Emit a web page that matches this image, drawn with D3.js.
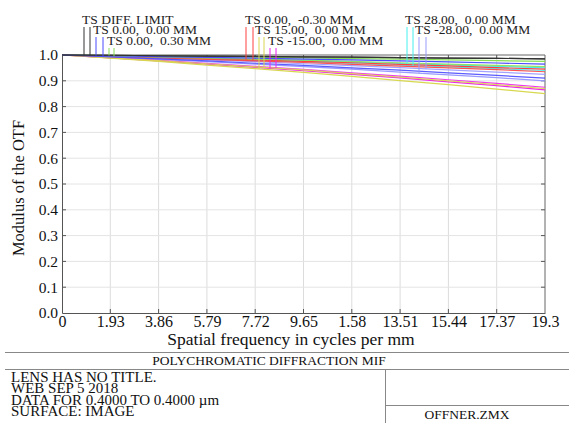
<!DOCTYPE html>
<html><head><meta charset="utf-8">
<script src="https://cdn.jsdelivr.net/npm/d3@7"></script>
<style>
html,body{margin:0;padding:0;background:#fff;}
svg{display:block;font-family:"Liberation Serif","Times New Roman",serif;}
text{white-space:pre;}
</style></head>
<body>
<svg id="c" width="569" height="423"></svg>
<script>
// ---- data ----
const freqs = [0, 1.93, 3.86, 5.79, 7.72, 9.65, 11.58, 13.51, 15.44, 17.37, 19.3];
const xTickLabels = ["0","1.93","3.86","5.79","7.72","9.65","1.58","13.51","15.44","17.37","19.3"];
const yTicks = [0,0.1,0.2,0.3,0.4,0.5,0.6,0.7,0.8,0.9,1.0];

const diffT = [1, .999, .997, .996, .995, .993, .992, .990, .988, .987, .985];
const diffS = [1, .999, .997, .996, .995, .993, .992, .990, .988, .987, .985];
const f1T = [1, .997, .994, .991, .988, .984, .981, .977, .973, .969, .965];
const f1S = [1, .993, .985, .977, .968, .960, .950, .941, .931, .921, .910];
const f2T = [1, .998, .996, .994, .991, .989, .986, .984, .981, .978, .975];
const f2S = [1, .996, .992, .988, .984, .980, .975, .970, .965, .960, .955];
const f3T = [1, .995, .991, .986, .981, .975, .970, .964, .958, .951, .945];
const f3S = [1, .995, .989, .983, .977, .971, .964, .957, .950, .943, .935];
const f4T = [1, .988, .975, .961, .947, .933, .917, .901, .885, .868, .850];
const f4S = [1, .989, .978, .966, .954, .942, .928, .914, .900, .885, .870];
const f5T = [1, .989, .977, .965, .952, .939, .925, .911, .896, .881, .865];
const f5S = [1, .990, .979, .968, .956, .944, .931, .918, .904, .890, .875];
const f6T = [1, .996, .992, .987, .982, .978, .972, .967, .962, .956, .950];
const f6S = [1, .995, .990, .985, .979, .973, .967, .961, .954, .947, .940];
const f7T = [1, .992, .983, .974, .965, .955, .945, .934, .923, .912, .900];
const f7S = [1, .994, .987, .981, .974, .966, .959, .951, .942, .934, .925];

const legendLabels = ["TS DIFF. LIMIT","TS 0.00,  0.00 MM","TS 0.00,  0.30 MM","TS 0.00,  -0.30 MM","TS 15.00,  0.00 MM","TS -15.00,  0.00 MM","TS 28.00,  0.00 MM","TS -28.00,  0.00 MM"];
const seriesColors = ["#333333","#4a4aff","#88dd55","#ff4040","#d8d850","#ee22ee","#44eeee","#9999ff"];

const series = [
  {name:legendLabels[0], T:diffT, S:diffS, color:seriesColors[0]},
  {name:legendLabels[1], T:f1T, S:f1S, color:seriesColors[1]},
  {name:legendLabels[2], T:f2T, S:f2S, color:seriesColors[2]},
  {name:legendLabels[3], T:f3T, S:f3S, color:seriesColors[3]},
  {name:legendLabels[4], T:f4T, S:f4S, color:seriesColors[4]},
  {name:legendLabels[5], T:f5T, S:f5S, color:seriesColors[5]},
  {name:legendLabels[6], T:f6T, S:f6S, color:seriesColors[6]},
  {name:legendLabels[7], T:f7T, S:f7S, color:seriesColors[7]}
];

// ---- layout ----
const svg = d3.select("#c");
svg.append("rect").attr("width",569).attr("height",423).attr("fill","#fff");
const L=62, R=545, T=55, B=313;
const x = d3.scaleLinear().domain([0,19.3]).range([L,R]);
const y = d3.scaleLinear().domain([0,1]).range([B,T]);

// grid
const g = svg.append("g");
g.selectAll(".vg").data(freqs.slice(1,-1)).enter().append("line")
  .attr("x1",d=>x(d)).attr("x2",d=>x(d)).attr("y1",T).attr("y2",B)
  .attr("stroke","#dcdcdc").attr("stroke-width",1);
g.selectAll(".hg").data(yTicks.slice(1,-1)).enter().append("line")
  .attr("y1",d=>y(d)).attr("y2",d=>y(d)).attr("x1",L).attr("x2",R)
  .attr("stroke","#e4e4e4").attr("stroke-width",1);

// axes
const xAxis = d3.axisBottom(x).tickValues(freqs).tickFormat((d,i)=>xTickLabels[i]).tickSize(0).tickPadding(3);
const ax = svg.append("g").attr("transform",`translate(0,${B})`).call(xAxis);
ax.select(".domain").attr("stroke","#555");
ax.selectAll("text").attr("font-size",16).attr("fill","#111").attr("font-family","Liberation Serif");

const yAxis = d3.axisLeft(y).tickValues(yTicks).tickFormat(d3.format(".1f")).tickSize(0).tickPadding(4);
const ay = svg.append("g").attr("transform",`translate(${L},0)`).call(yAxis);
ay.select(".domain").attr("stroke","#555");
ay.selectAll("text").attr("font-size",15.5).attr("fill","#111").attr("font-family","Liberation Serif");

// inner ticks
svg.selectAll(".ylt").data(yTicks.slice(1,-1)).enter().append("line")
  .attr("x1",L).attr("x2",L+4).attr("y1",d=>y(d)).attr("y2",d=>y(d)).attr("stroke","#555");
svg.selectAll(".yrt").data(yTicks.slice(1,-1)).enter().append("line")
  .attr("x1",R).attr("x2",R-4).attr("y1",d=>y(d)).attr("y2",d=>y(d)).attr("stroke","#555");
svg.selectAll(".xbt").data(freqs.slice(1,-1)).enter().append("line")
  .attr("x1",d=>x(d)).attr("x2",d=>x(d)).attr("y1",B).attr("y2",B-4).attr("stroke","#555");
svg.selectAll(".xtt").data(freqs.slice(1,-1)).enter().append("line")
  .attr("x1",d=>x(d)).attr("x2",d=>x(d)).attr("y1",T).attr("y2",T+4).attr("stroke","#555");
// top & right frame
svg.append("line").attr("x1",L).attr("x2",R).attr("y1",T).attr("y2",T).attr("stroke","#666");
svg.append("line").attr("x1",R).attr("x2",R).attr("y1",T).attr("y2",B).attr("stroke","#666");

// curves
const line = d3.line().x((d,i)=>x(freqs[i])).y(d=>y(d));
const cg = svg.append("g");
series.slice().reverse().forEach(s=>{
  cg.append("path").attr("d",line(s.S)).attr("fill","none").attr("stroke",s.color).attr("stroke-width",1.2).attr("opacity",0.9);
  cg.append("path").attr("d",line(s.T)).attr("fill","none").attr("stroke",s.color).attr("stroke-width",1.2);
});

// legend
const legendPos = [
  {x:82, y:24, lx:[84,90]},
  {x:93, y:34, lx:[96,103]},
  {x:107, y:45, lx:[109,114]},
  {x:245, y:24, lx:[246,253]},
  {x:255, y:34, lx:[259,264]},
  {x:268, y:45, lx:[270,276]},
  {x:405, y:24, lx:[407,413]},
  {x:415, y:34, lx:[419,426]}
];
function interp(arr, f){
  const i = Math.min(freqs.length-2, Math.floor(f/1.93));
  const t = (f - freqs[i])/(freqs[i+1]-freqs[i]);
  return arr[i] + t*(arr[i+1]-arr[i]);
}
series.forEach((s,k)=>{
  const p = legendPos[k];
  svg.append("text").attr("x",p.x).attr("y",p.y).attr("font-size",13.5).attr("fill","#222").text(s.name);
  [s.T, s.S].forEach((arr,j)=>{
    const lx = p.lx[j];
    svg.append("line").attr("x1",lx).attr("x2",lx).attr("y1",p.y+3)
      .attr("y2", y(interp(arr, x.invert(lx)))).attr("stroke",s.color).attr("stroke-width",1);
  });
});

// axis titles
svg.append("text").attr("x",291).attr("y",345).attr("text-anchor","middle").attr("font-size",17.5).attr("fill","#111").text("Spatial frequency in cycles per mm");
svg.append("text").attr("transform",`translate(24,188) rotate(-90)`).attr("text-anchor","middle").attr("font-size",16.5).attr("fill","#111").text("Modulus of the OTF");

// info box
const box = svg.append("g").attr("stroke","#888").attr("stroke-width",1);
box.append("line").attr("x1",5).attr("x2",569).attr("y1",352.5).attr("y2",352.5);
box.append("line").attr("x1",5).attr("x2",569).attr("y1",369.5).attr("y2",369.5);
box.append("line").attr("x1",385.5).attr("x2",385.5).attr("y1",369).attr("y2",423);
box.append("line").attr("x1",385).attr("x2",569).attr("y1",405.5).attr("y2",405.5);
svg.append("text").attr("x",269).attr("y",365).attr("text-anchor","middle").attr("font-size",13.5).attr("fill","#111").text("POLYCHROMATIC DIFFRACTION MIF");
const infoLines = ["LENS HAS NO TITLE.","WEB SEP 5 2018","DATA FOR 0.4000 TO 0.4000 µm","SURFACE: IMAGE"];
infoLines.forEach((t,i)=>{
  svg.append("text").attr("x",11).attr("y",382+i*11.3).attr("font-size",15).attr("fill","#111").text(t);
});
svg.append("text").attr("x",467).attr("y",419).attr("text-anchor","middle").attr("font-size",13.5).attr("fill","#111").text("OFFNER.ZMX");
</script>
</body></html>
